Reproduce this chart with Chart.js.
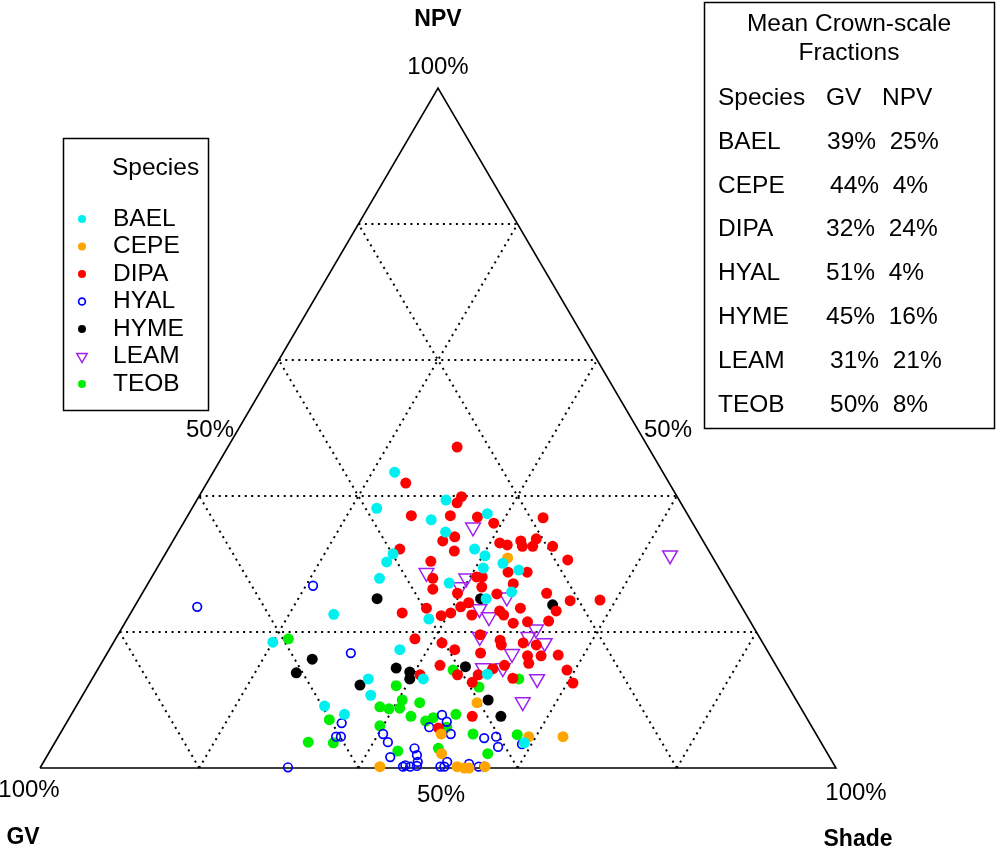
<!DOCTYPE html>
<html>
<head>
<meta charset="utf-8">
<title>Crown-scale fractions</title>
<script src="https://cdn.jsdelivr.net/npm/chart.js@4.4.0/dist/chart.umd.min.js"></script>
<style>
  html, body { margin: 0; padding: 0; background: #fff; }
  canvas { display: block; }
</style>
</head>
<body>
<canvas id="ternary" width="1000" height="849"></canvas>
<script>
// fractions in percent (GV = 100 - NPV - Shade)
const species = ['BAEL', 'CEPE', 'DIPA', 'HYAL', 'HYME', 'LEAM', 'TEOB'];
const colors = ['#00F0F0', '#FFA500', '#FF0000', '#0000FF', '#000000', '#A020F0', '#00EE00'];

const baelNPV = [43.5, 38.2, 39.4, 36.5, 37.4, 34.7, 32.2, 31.5, 30.3, 27.9, 31.2, 30.1, 29.4, 29.1, 27.2, 25.9, 24.9, 21.9, 17.4, 13.1, 13.8, 10.7, 22.6, 18.5, 13.1, 9.1, 7.9, 3.7];
const baelShade = [22.8, 23.2, 31.3, 30.9, 37.5, 33.6, 38.5, 28.6, 28.4, 28.7, 40.3, 43.1, 41.0, 45.6, 37.8, 46.3, 43.6, 37.9, 36.5, 41.6, 49.3, 36.2, 25.6, 20.0, 34.7, 31.2, 34.3, 59.0];

const cepeNPV = [30.9, 9.6, 5.0, 2.1, 4.6, 4.6, 0.2, 0.2, 0, 0, 0.2];
const cepeShade = [43.3, 50.1, 47.9, 49.4, 59.1, 63.4, 42.6, 52.3, 53.3, 53.9, 55.8];

const dipaNPV = [47.2, 41.9, 39.9, 39.0, 37.1, 37.1, 36.9, 36.0, 36.8, 33.4, 34.0, 31.9, 33.1, 32.8, 33.4, 32.6, 32.6, 33.7, 32.6, 32.2,
  30.4, 30.6, 28.8, 28.8, 27.9, 26.3, 28.1, 28.1, 25.7, 26.6, 27.1, 25.6, 25.7, 24.6, 24.7, 23.1, 23.1, 22.5, 23.5, 21.3,
  21.5, 21.6, 18.8, 18.1, 18.4, 18.1, 16.5, 15.4, 16.5, 16.6, 15.1, 13.2, 14.4, 12.5, 22.8, 23.5, 22.4, 22.8, 23.7, 24.3,
  22.5, 19.0, 18.4, 17.4, 19.6, 16.9, 15.1, 13.7, 13.7, 12.6, 13.7, 7.6, 5.9, 14.6];
const dipaShade = [28.8, 25.0, 33.0, 32.9, 28.1, 33.0, 36.5, 39.0, 44.8, 33.9, 35.1, 36.1, 41.2, 42.3, 43.7, 44.3, 45.6, 45.5, 48.1, 29.1,
  33.9, 51.0, 44.4, 46.8, 35.4, 36.2, 40.8, 41.5, 39.6, 42.2, 45.9, 44.6, 50.8, 54.3, 58.0, 53.3, 46.2, 47.0, 48.6, 48.8,
  50.5, 53.1, 48.4, 48.9, 51.5, 53.3, 53.0, 53.7, 54.7, 56.8, 50.8, 52.8, 59.0, 60.7, 34.1, 36.8, 39.2, 40.2, 41.0, 41.7,
  43.0, 37.6, 41.3, 43.4, 45.5, 46.9, 42.7, 45.6, 40.9, 48.0, 48.2, 50.5, 47.1, 49.6];

const hyalNPV = [26.8, 23.7, 16.9, 6.6, 4.6, 4.6, 0.1, 5.0, 3.8, 1.6, 2.9, 1.9, 0.9, 0.3, 0.4, 0.2, 7.8, 6.8, 6.0, 5.0,
  4.4, 4.6, 3.1, 0.9, 0.2, 0.2, 0.6, 0.2, 0.2, 3.5, 0.2];
const hyalShade = [20.9, 7.9, 30.6, 34.6, 34.9, 35.5, 31.1, 40.6, 41.8, 43.2, 45.6, 46.4, 47.0, 47.2, 45.7, 45.5, 46.6, 47.7, 45.9, 49.1,
  53.6, 55.0, 56.0, 50.7, 50.2, 50.7, 53.6, 55.0, 55.7, 58.8, 46.4];

const hymeNPV = [24.9, 24.9, 24.0, 16.0, 14.0, 12.2, 14.7, 14.1, 13.1, 14.9, 10.0, 7.6];
const hymeShade = [29.9, 42.9, 52.4, 26.2, 25.2, 34.1, 37.4, 39.4, 39.9, 46.0, 51.3, 54.1];

const leamNPV = [31.3, 35.4, 28.7, 27.9, 26.6, 25.1, 23.4, 22.2, 19.3, 20.4, 19.3, 18.4, 16.8, 14.7, 14.7, 13.1, 9.7];
const leamShade = [63.5, 36.7, 34.2, 39.6, 39.5, 46.1, 43.5, 45.3, 45.6, 52.1, 51.7, 54.2, 50.9, 50.8, 48.3, 55.9, 55.8];

const teobNPV = [19.0, 9.0, 8.7, 7.1, 6.2, 3.8, 3.7, 12.1, 10.0, 8.8, 9.6, 7.6, 6.9, 7.4, 7.9, 6.0, 5.0, 2.5, 2.9, 2.1,
  11.9, 14.4, 13.1, 4.9];
const teobShade = [21.7, 38.2, 39.5, 32.8, 39.6, 31.8, 35.0, 38.7, 40.5, 40.8, 42.9, 42.8, 45.0, 45.7, 48.3, 48.1, 51.9, 43.7, 48.6, 55.2,
  49.2, 44.7, 53.6, 57.5];

// table in the top-right box
const meanGV = [39, 44, 32, 51, 45, 31, 50];
const meanNPV = [25, 4, 24, 4, 16, 21, 8];

const gridSteps = [0.2, 0.4, 0.6, 0.8];

// ternary -> plane: Shade runs left to right, NPV bottom to top
function toXY(npv, shade) {
  return npv.map((n, i) => ({ x: shade[i] / 100 + n / 200, y: n / 100 }));
}

const seriesNPV = [baelNPV, cepeNPV, dipaNPV, hyalNPV, hymeNPV, leamNPV, teobNPV];
const seriesShade = [baelShade, cepeShade, dipaShade, hyalShade, hymeShade, leamShade, teobShade];

const FONT = '"Liberation Sans", Arial, sans-serif';

function markerStyle(i) {
  if (species[i] === 'HYAL') {
    return { pointStyle: 'circle', pointRadius: 4.3, pointBorderWidth: 1.7, pointBackgroundColor: 'rgba(0,0,0,0)', pointBorderColor: colors[i] };
  }
  if (species[i] === 'LEAM') {
    return { pointStyle: 'triangle', rotation: 180, pointRadius: 8.5, pointBorderWidth: 1.5, pointBackgroundColor: 'rgba(0,0,0,0)', pointBorderColor: colors[i] };
  }
  return { pointStyle: 'circle', pointRadius: 5.5, pointBorderWidth: 0, pointBackgroundColor: colors[i], pointBorderColor: colors[i] };
}

const datasets = species.map((name, i) => Object.assign({
  label: name,
  data: toXY(seriesNPV[i], seriesShade[i]),
  showLine: false,
  clip: false,
  order: 1
}, markerStyle(i)));

// triangle outline
datasets.push({
  label: 'frame',
  data: [{ x: 0, y: 0 }, { x: 1, y: 0 }, { x: 0.5, y: 1 }, { x: 0, y: 0 }],
  showLine: true,
  pointRadius: 0,
  borderColor: '#000',
  borderWidth: 1.6,
  clip: false,
  order: 5
});

const dottedGrid = {
  id: 'dottedGrid',
  beforeDatasetsDraw(chart) {
    const { ctx, scales: { x, y } } = chart;
    const px = v => x.getPixelForValue(v);
    const py = v => y.getPixelForValue(v);
    ctx.save();
    ctx.strokeStyle = '#000';
    ctx.lineWidth = 2;
    ctx.setLineDash([2, 4.5]);
    for (const k of gridSteps) {
      const segs = [
        [k / 2, k, 1 - k / 2, k],            // constant NPV
        [k, 0, k + (1 - k) / 2, 1 - k],      // constant Shade
        [1 - k, 0, (1 - k) / 2, 1 - k]       // constant GV
      ];
      for (const s of segs) {
        ctx.beginPath();
        ctx.moveTo(px(s[0]), py(s[1]));
        ctx.lineTo(px(s[2]), py(s[3]));
        ctx.stroke();
      }
    }
    ctx.restore();
  }
};

function drawMarker(ctx, i, cx, cy) {
  ctx.save();
  if (species[i] === 'LEAM') {
    const r = 6;
    ctx.strokeStyle = colors[i];
    ctx.lineWidth = 1.5;
    ctx.beginPath();
    ctx.moveTo(cx - r * 0.866, cy - r / 2);
    ctx.lineTo(cx + r * 0.866, cy - r / 2);
    ctx.lineTo(cx, cy + r);
    ctx.closePath();
    ctx.stroke();
  } else if (species[i] === 'HYAL') {
    ctx.strokeStyle = colors[i];
    ctx.lineWidth = 1.7;
    ctx.beginPath();
    ctx.arc(cx, cy, 3.4, 0, Math.PI * 2);
    ctx.stroke();
  } else {
    ctx.fillStyle = colors[i];
    ctx.beginPath();
    ctx.arc(cx, cy, 4, 0, Math.PI * 2);
    ctx.fill();
  }
  ctx.restore();
}

const rowX = [827, 830, 826, 826, 826, 830, 830];

const labels = {
  id: 'labels',
  afterDraw(chart) {
    const ctx = chart.ctx;
    ctx.save();
    ctx.fillStyle = '#000';
    ctx.textBaseline = 'middle';

    // corner labels
    ctx.textAlign = 'center';
    ctx.font = 'bold 23px ' + FONT;
    ctx.fillText('NPV', 438, 20);
    ctx.fillText('GV', 23, 838);
    ctx.fillText('Shade', 858, 840);
    ctx.font = '24px ' + FONT;
    ctx.fillText('100%', 438, 67);
    ctx.fillText('50%', 210, 430);
    ctx.fillText('50%', 668, 430);
    ctx.fillText('100%', 29, 790);
    ctx.fillText('50%', 441, 795);
    ctx.fillText('100%', 856, 793);

    // species legend
    ctx.font = '24.5px ' + FONT;
    ctx.lineWidth = 1.5;
    ctx.strokeStyle = '#000';
    ctx.strokeRect(63.5, 138.5, 145, 272);
    ctx.textAlign = 'left';
    ctx.fillText('Species', 112, 168);
    species.forEach((name, i) => {
      const yy = 219 + i * 27.5;
      drawMarker(ctx, i, 82, yy);
      ctx.fillText(name, 113, yy);
    });

    // mean fractions table
    ctx.strokeRect(704.5, 2.5, 290, 426);
    ctx.textAlign = 'center';
    ctx.fillText('Mean Crown-scale', 849, 24);
    ctx.fillText('Fractions', 849, 53);
    ctx.textAlign = 'left';
    ctx.fillText('Species', 718, 98);
    ctx.fillText('GV', 826, 98);
    ctx.fillText('NPV', 882, 98);
    species.forEach((name, i) => {
      const yy = 142 + i * 43.8;
      ctx.fillText(name, 718, yy);
      ctx.fillText(meanGV[i] + '%  ' + meanNPV[i] + '%', rowX[i], yy);
    });
    ctx.restore();
  }
};

new Chart(document.getElementById('ternary'), {
  type: 'scatter',
  data: { datasets },
  options: {
    responsive: false,
    animation: false,
    devicePixelRatio: 1,
    layout: { padding: { left: 40, right: 164, top: 88, bottom: 81 } },
    scales: {
      x: { type: 'linear', min: 0, max: 1, display: false },
      y: { type: 'linear', min: 0, max: 1, display: false }
    },
    plugins: {
      legend: { display: false },
      tooltip: { enabled: false }
    }
  },
  plugins: [dottedGrid, labels]
});
</script>
</body>
</html>
